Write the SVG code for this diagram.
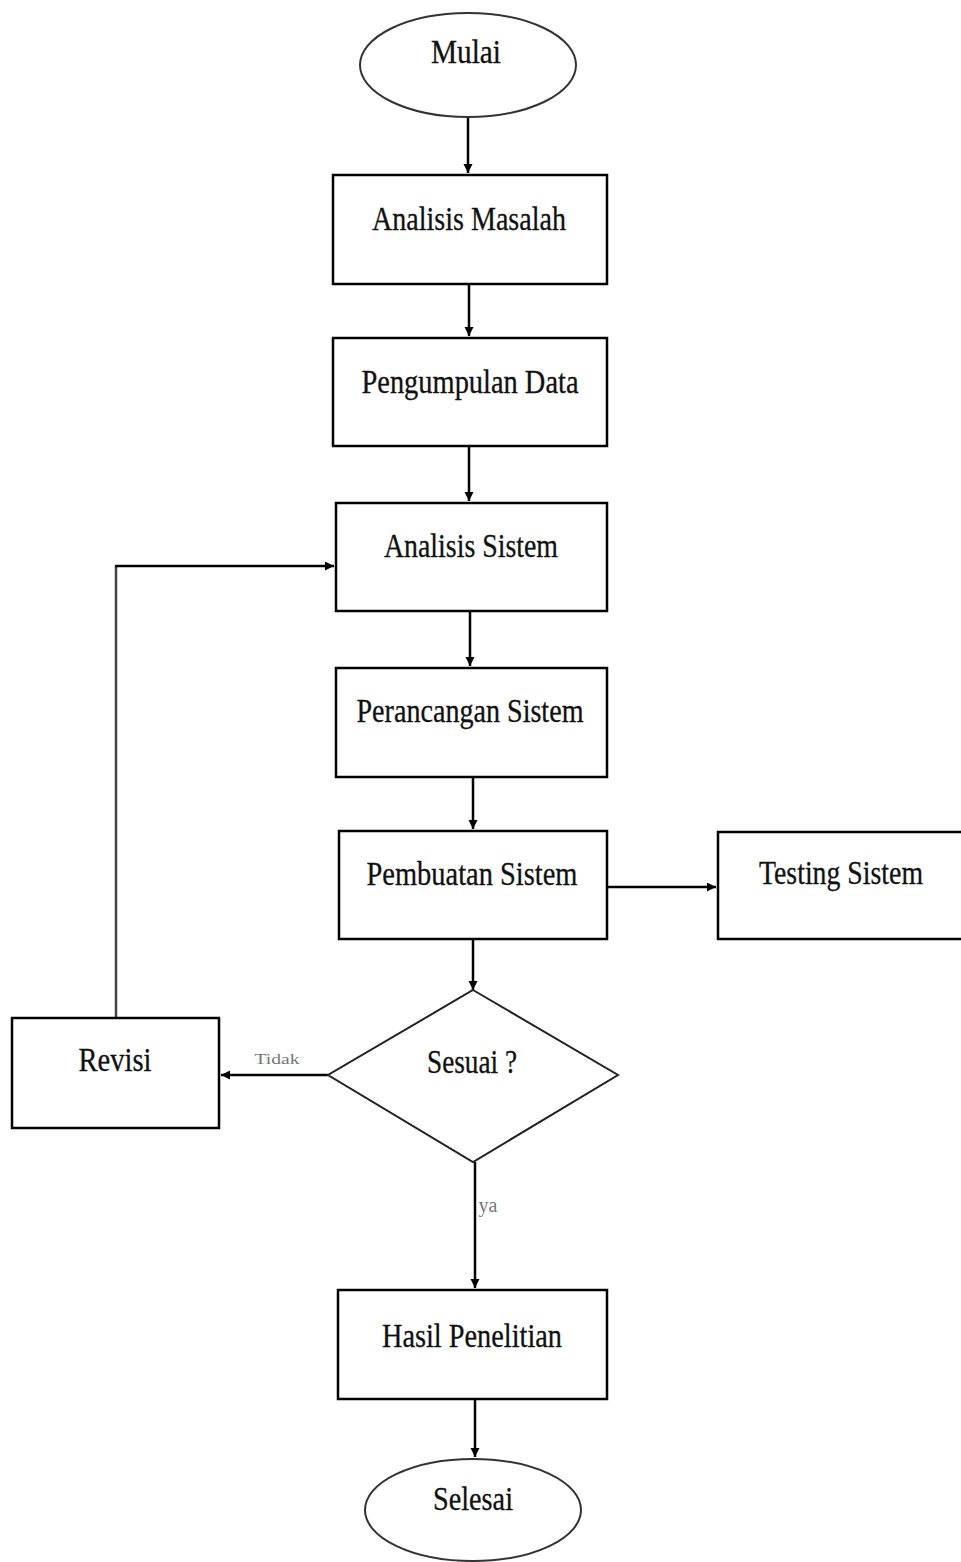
<svg xmlns="http://www.w3.org/2000/svg" width="961" height="1562" viewBox="0 0 961 1562">
<style>
.box{fill:#fff;stroke:#000;stroke-width:2.5}
.ell{fill:#fff;stroke:#333;stroke-width:2}
.dia{fill:#fff;stroke:#222;stroke-width:2}
.t{font-family:"Liberation Serif","Times New Roman",serif;font-size:33px;fill:#111;stroke:#111;stroke-width:0.3;text-anchor:middle}
.lbl{font-family:"Liberation Serif","Times New Roman",serif;fill:#777;text-anchor:middle}
.c{fill:none;stroke:#000;stroke-width:2.5}
</style>
<defs>
<marker id="ah" markerUnits="userSpaceOnUse" markerWidth="10" markerHeight="10" refX="9" refY="4.5" orient="auto">
<path d="M0,0 L9,4.5 L0,9 z" fill="#000"/>
</marker>
</defs>
<rect width="961" height="1562" fill="#fff"/>
<g id="connectors">
<line class="c" x1="468" y1="117" x2="468" y2="173" marker-end="url(#ah)"/>
<line class="c" x1="469" y1="284" x2="469" y2="336" marker-end="url(#ah)"/>
<line class="c" x1="469" y1="446" x2="469" y2="501" marker-end="url(#ah)"/>
<line class="c" x1="470" y1="611" x2="470" y2="666" marker-end="url(#ah)"/>
<line class="c" x1="473" y1="777" x2="473" y2="829" marker-end="url(#ah)"/>
<line class="c" x1="473" y1="939" x2="473" y2="990" marker-end="url(#ah)"/>
<line class="c" x1="607" y1="887" x2="716" y2="887" marker-end="url(#ah)"/>
<line class="c" x1="328" y1="1075" x2="221" y2="1075" marker-end="url(#ah)"/>
<path d="M116,1018 L116,566" fill="none" stroke="#444" stroke-width="2.5"/>
<line class="c" x1="115" y1="566" x2="334" y2="566" marker-end="url(#ah)"/>
<line class="c" x1="475" y1="1162" x2="475" y2="1288" marker-end="url(#ah)"/>
<line class="c" x1="475" y1="1399" x2="475" y2="1457" marker-end="url(#ah)"/>
<text class="lbl" x="277" y="1064" font-size="15" textLength="45" lengthAdjust="spacingAndGlyphs">Tidak</text>
<text class="lbl" x="488" y="1212" font-size="20">ya</text>
</g>
<g id="mulai">
<ellipse class="ell" cx="468" cy="65" rx="108" ry="52"/>
<text class="t" x="466" y="63" textLength="70" lengthAdjust="spacingAndGlyphs">Mulai</text>
</g>
<g id="analisis-masalah">
<rect class="box" x="333" y="175" width="274" height="109"/>
<text class="t" x="469" y="230" textLength="194" lengthAdjust="spacingAndGlyphs">Analisis Masalah</text>
</g>
<g id="pengumpulan-data">
<rect class="box" x="333" y="338" width="274" height="108"/>
<text class="t" x="470" y="393" textLength="217" lengthAdjust="spacingAndGlyphs">Pengumpulan Data</text>
</g>
<g id="analisis-sistem">
<rect class="box" x="336" y="503" width="271" height="108"/>
<text class="t" x="471" y="557" textLength="174" lengthAdjust="spacingAndGlyphs">Analisis Sistem</text>
</g>
<g id="perancangan-sistem">
<rect class="box" x="336" y="668" width="271" height="109"/>
<text class="t" x="470" y="722" textLength="227" lengthAdjust="spacingAndGlyphs">Perancangan Sistem</text>
</g>
<g id="pembuatan-sistem">
<rect class="box" x="339" y="831" width="268" height="108"/>
<text class="t" x="472" y="885" textLength="211" lengthAdjust="spacingAndGlyphs">Pembuatan Sistem</text>
</g>
<g id="testing-sistem">
<rect class="box" x="718" y="832" width="250" height="107"/>
<text class="t" x="841" y="884" textLength="164" lengthAdjust="spacingAndGlyphs">Testing Sistem</text>
</g>
<g id="sesuai">
<polygon class="dia" points="473,990 618,1075 473,1162 328,1075"/>
<text class="t" x="472" y="1073" textLength="90" lengthAdjust="spacingAndGlyphs">Sesuai ?</text>
</g>
<g id="revisi">
<rect class="box" x="12" y="1018" width="207" height="110"/>
<text class="t" x="115" y="1071" textLength="73" lengthAdjust="spacingAndGlyphs">Revisi</text>
</g>
<g id="hasil-penelitian">
<rect class="box" x="338" y="1290" width="269" height="109"/>
<text class="t" x="472" y="1347" textLength="180" lengthAdjust="spacingAndGlyphs">Hasil Penelitian</text>
</g>
<g id="selesai">
<ellipse class="ell" cx="473" cy="1510" rx="108" ry="51"/>
<text class="t" x="473" y="1510" textLength="80" lengthAdjust="spacingAndGlyphs">Selesai</text>
</g>
</svg>
